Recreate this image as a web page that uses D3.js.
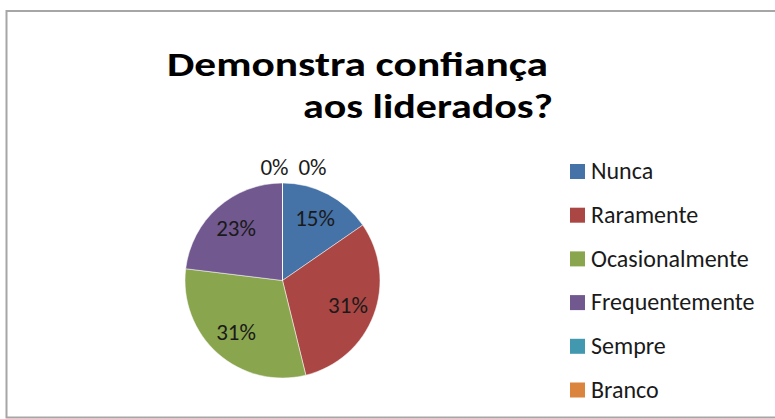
<!DOCTYPE html>
<html><head><meta charset="utf-8">
<script src="https://cdn.jsdelivr.net/npm/d3@7/dist/d3.min.js"></script>
<style>
html,body{margin:0;padding:0;background:#fff;}
svg{display:block;font-family:Carlito,Calibri,"Open Sans",sans-serif;}
</style></head>
<body>
<svg id="chart" width="775" height="419"></svg>
<script>
const categories = ["Nunca","Raramente","Ocasionalmente","Frequentemente","Sempre","Branco"];
const counts = [2,4,4,3,0,0];
const colors = ["#4572A7","#AA4643","#89A54E","#71588F","#4198AF","#DB843D"];
const titleLines = ["Demonstra confiança","aos liderados?"];

const svg = d3.select("#chart");
// frame
svg.append("rect").attr("x",6.5).attr("y",11).attr("width",800).attr("height",406.5)
  .attr("fill","#fff").attr("stroke","#a6a6a6").attr("stroke-width",2);

// title
svg.append("text").attr("font-weight","bold").attr("font-size",34.5)
  .attr("fill","#000").attr("x",167).attr("y",76)
  .attr("textLength",381).attr("lengthAdjust","spacingAndGlyphs")
  .text(titleLines[0]);
svg.append("text").attr("font-weight","bold").attr("font-size",34.5)
  .attr("fill","#000").attr("x",303).attr("y",118)
  .attr("textLength",250).attr("lengthAdjust","spacingAndGlyphs")
  .text(titleLines[1]);

const total = d3.sum(counts);
const data = categories.map((c,i)=>({cat:c,value:counts[i],color:colors[i]}));
const cx = 282.5, cy = 280.5, r = 97.5;
const pie = d3.pie().value(d=>d.value).sort(null);
const arcs = pie(data);
const arc = d3.arc().innerRadius(0).outerRadius(r);
const labelArc = d3.arc().innerRadius(70).outerRadius(70);
const g = svg.append("g").attr("transform",`translate(${cx},${cy})`);
g.selectAll("path").data(arcs).join("path")
  .attr("d",arc).attr("fill",d=>d.data.color)
  .attr("stroke","#fff").attr("stroke-width",0.5);

const fmt = v => Math.round(v/total*100)+"%";
const nonZero = arcs.filter(a=>a.data.value>0);
const zero = arcs.filter(a=>a.data.value===0);
g.selectAll("text.in").data(nonZero).join("text").attr("class","in")
  .attr("transform",d=>`translate(${labelArc.centroid(d)})`)
  .attr("text-anchor","middle").attr("dy","0.33em")
  .attr("font-size",23).attr("fill","#1a1a1a")
  .text(d=>fmt(d.data.value));
g.selectAll("text.out").data(zero).join("text").attr("class","out")
  .attr("x",(d,i)=>i*38-8)
  .attr("y",-r-16)
  .attr("text-anchor","middle").attr("dy","0.33em")
  .attr("font-size",23).attr("fill","#1a1a1a")
  .text(d=>fmt(d.data.value));

// legend
const legY = d3.scalePoint().domain(categories).range([171.5,390]);
const leg = svg.append("g");
const items = leg.selectAll("g").data(data).join("g")
  .attr("transform",d=>`translate(570,${legY(d.cat)})`);
items.append("rect").attr("x",0).attr("y",-7.5).attr("width",15).attr("height",15)
  .attr("fill",d=>d.color);
items.append("text").attr("x",21).attr("dy","0.32em").attr("font-size",24)
  .attr("fill","#1a1a1a").text(d=>d.cat);
</script>
</body></html>
